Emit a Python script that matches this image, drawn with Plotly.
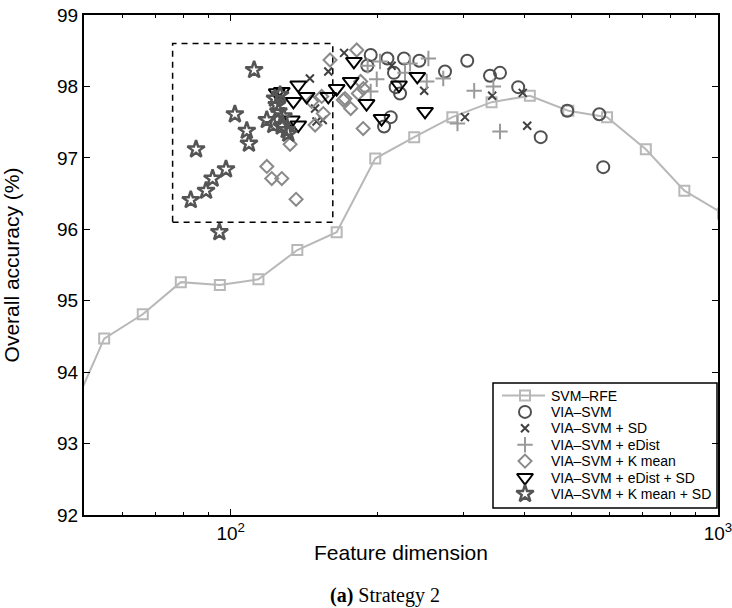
import plotly.graph_objects as go

# ---------------- data ----------------
rfe_x = [45.8, 55, 66, 79, 95, 114, 137, 165, 198, 238, 285, 343, 411, 493, 592, 711, 853, 1024]
rfe_y = [93.24, 94.47, 94.81, 95.26, 95.22, 95.30, 95.71, 95.96, 96.99, 97.29, 97.57, 97.78,
         97.87, 97.66, 97.57, 97.12, 96.54, 96.22]

via_x = [193.8, 209.7, 226.8, 243.8, 190.7, 216.3, 218, 222.6, 213, 206.4, 305.8, 275.3,
         340.5, 357, 389, 432.7, 490.6, 570.7, 581.5]
via_y = [98.44, 98.39, 98.39, 98.36, 98.29, 98.19, 97.99, 97.90, 97.57, 97.44, 98.36, 98.21,
         98.15, 98.19, 97.99, 97.29, 97.66, 97.61, 96.87]

sd_x = [145.4, 158.6, 170.9, 149, 154.5, 150, 213.9, 249.5, 302.5, 344, 397.5, 406]
sd_y = [98.11, 98.21, 98.47, 97.69, 97.53, 97.51, 98.29, 97.94, 97.57, 97.87, 97.91, 97.45]

ed_x = [254.5, 233.4, 202.5, 199.4, 227.9, 252.5, 273, 316, 346, 292, 357, 191, 193.8]
ed_y = [98.39, 98.32, 98.35, 98.10, 98.19, 98.07, 98.11, 97.94, 98.00, 97.48, 97.37, 98.29, 97.93]

km_x = [159.9, 170.3, 146.6, 153.7, 154.9, 149, 132.4, 118.6, 121.4, 127.3, 136.2, 181.4,
        171.6, 176.3, 187.1, 182.8, 187, 184.8]
km_y = [98.37, 97.81, 97.79, 97.86, 97.62, 97.46, 97.19, 96.88, 96.71, 96.71, 96.42, 98.51,
        97.83, 97.69, 97.97, 97.90, 97.41, 98.07]

edsd_x = [127.3, 137.6, 134.5, 143.2, 133.5, 137.6, 124.3, 158.6, 165, 176.3, 179, 190,
          204, 221.5, 241.5, 250.5]
edsd_y = [97.93, 98.02, 97.79, 97.86, 97.53, 97.46, 97.91, 97.86, 97.97, 98.07, 98.35, 97.76,
          97.55, 98.02, 98.14, 97.65]

kmsd_x = [111.7, 102, 107.9, 109, 84.9, 97.8, 91.8, 89, 82.8, 94.8, 118.6, 123.3, 124.3,
          125.3, 122.3, 127.3, 130.3, 131.3, 126.3, 128.3]
kmsd_y = [98.23, 97.61, 97.38, 97.20, 97.12, 96.84, 96.71, 96.54, 96.41, 95.96, 97.53, 97.83,
          97.74, 97.65, 97.46, 97.44, 97.39, 97.34, 97.88, 97.58]

box_x = [76, 162]
box_y = [96.1, 98.6]

series_names = ["SVM–RFE", "VIA–SVM", "VIA–SVM + SD", "VIA–SVM + eDist",
                "VIA–SVM + K mean", "VIA–SVM + eDist + SD", "VIA–SVM + K mean + SD"]

x_tickvals = [100, 1000]
x_ticktext = ["10<sup>2</sup>", "10<sup>3</sup>"]
x_minor = [60, 70, 80, 90, 200, 300, 400, 500, 600, 700, 800, 900]
y_tickvals = [92, 93, 94, 95, 96, 97, 98, 99]

FONT = "Liberation Sans, Arial, Helvetica, sans-serif"

styles = [
    dict(symbol="square-open", size=10, color="#b8b8b8", width=2),
    dict(symbol="circle-open", size=12, color="#505050", width=2),
    dict(symbol="x-thin-open", size=8, color="#404040", width=2),
    dict(symbol="cross-thin-open", size=11, color="#9a9a9a", width=2),
    dict(symbol="diamond-open", size=10, color="#8a8a8a", width=2),
    dict(symbol="triangle-down-open", size=14, color="#000000", width=2),
    dict(symbol="star-open", size=13, color="#555555", width=2.5),
]
data = [(rfe_x, rfe_y), (via_x, via_y), (sd_x, sd_y), (ed_x, ed_y),
        (km_x, km_y), (edsd_x, edsd_y), (kmsd_x, kmsd_y)]

fig = go.Figure()

fig.add_trace(go.Scatter(
    x=[box_x[0], box_x[1], box_x[1], box_x[0], box_x[0]],
    y=[box_y[0], box_y[0], box_y[1], box_y[1], box_y[0]],
    mode="lines", line=dict(color="black", width=1.5, dash="6px,5px"),
    showlegend=False, hoverinfo="skip"))

for i, ((xs, ys), st, nm) in enumerate(zip(data, styles, series_names)):
    mk = dict(symbol=st["symbol"], size=st["size"], color=st["color"],
              line=dict(width=st["width"], color=st["color"]))
    if i == 0:
        fig.add_trace(go.Scatter(x=xs, y=ys, name=nm, mode="lines+markers",
                                 line=dict(color=st["color"], width=2), marker=mk,
                                 showlegend=False))
    else:
        fig.add_trace(go.Scatter(x=xs, y=ys, name=nm, mode="markers", marker=mk,
                                 showlegend=False))

# ---- hand-built legend (pixel-space overlay axes) ----
LEG_L, LEG_R, LEG_T, LEG_B = 493, 717, 383, 508
ROW0, ROWSTEP = 395.5, 16.4
SYM_X, TEXT_X = 525, 549
annotations = []
for i, (st, nm) in enumerate(zip(styles, series_names)):
    ry = ROW0 + i * ROWSTEP
    mk = dict(symbol=st["symbol"], size=st["size"], color=st["color"],
              line=dict(width=st["width"], color=st["color"]))
    if i == 0:
        fig.add_trace(go.Scatter(x=[502, 545], y=[ry, ry], xaxis="x2", yaxis="y2",
                                 mode="lines", line=dict(color=st["color"], width=2),
                                 showlegend=False, hoverinfo="skip", cliponaxis=False))
    fig.add_trace(go.Scatter(x=[SYM_X], y=[ry], xaxis="x2", yaxis="y2", mode="markers",
                             marker=mk, showlegend=False, hoverinfo="skip", cliponaxis=False))
    annotations.append(dict(text=nm, xref="x2", yref="y2", x=TEXT_X, y=ry,
                            xanchor="left", yanchor="middle", showarrow=False,
                            font=dict(family=FONT, size=14, color="black")))

annotations.append(dict(text="<b>(a)</b> Strategy 2", xref="paper", yref="paper",
                        x=0.474, y=-0.16, xanchor="center", yanchor="middle", showarrow=False,
                        font=dict(family="Liberation Serif, Times New Roman, serif", size=20)))

fig.update_layout(
    width=732, height=608,
    margin=dict(l=84, r=14, t=15, b=93, autoexpand=False),
    paper_bgcolor="white", plot_bgcolor="white",
    font=dict(family=FONT, color="black", size=19),
    showlegend=False,
    xaxis=dict(type="log", range=[1.69897, 3], tickmode="array",
               tickvals=x_tickvals, ticktext=x_ticktext, automargin=False,
               ticklabeloverflow="allow",
               ticks="inside", ticklen=6, tickwidth=1, tickcolor="black",
               showline=True, linecolor="black", linewidth=2, mirror="ticks",
               showgrid=False, zeroline=False,
               minor=dict(tickmode="array", tickvals=x_minor, ticks="inside",
                          ticklen=3, tickcolor="black", showgrid=False),
               title=dict(text="Feature dimension", font=dict(size=21), standoff=3),
               tickfont=dict(size=19)),
    yaxis=dict(range=[92, 99], tickmode="array", tickvals=y_tickvals, automargin=False,
               ticks="inside", ticklen=6, tickwidth=1, tickcolor="black",
               showline=True, linecolor="black", linewidth=2, mirror="ticks",
               showgrid=False, zeroline=False,
               title=dict(text="Overall accuracy (%)", font=dict(size=21), standoff=36),
               tickfont=dict(size=19)),
    xaxis2=dict(overlaying="x", range=[84, 718], visible=False, fixedrange=True),
    yaxis2=dict(overlaying="y", range=[515, 15], visible=False, fixedrange=True),
    shapes=[dict(type="rect", xref="x2", yref="y2", x0=LEG_L, x1=LEG_R, y0=LEG_T, y1=LEG_B,
                 line=dict(color="black", width=1.5), fillcolor="white", layer="below")],
    annotations=annotations,
)

fig.write_html("out.html", config={"displayModeBar": False},
               post_script="document.body.style.margin='0px';document.body.style.overflow='hidden';")
